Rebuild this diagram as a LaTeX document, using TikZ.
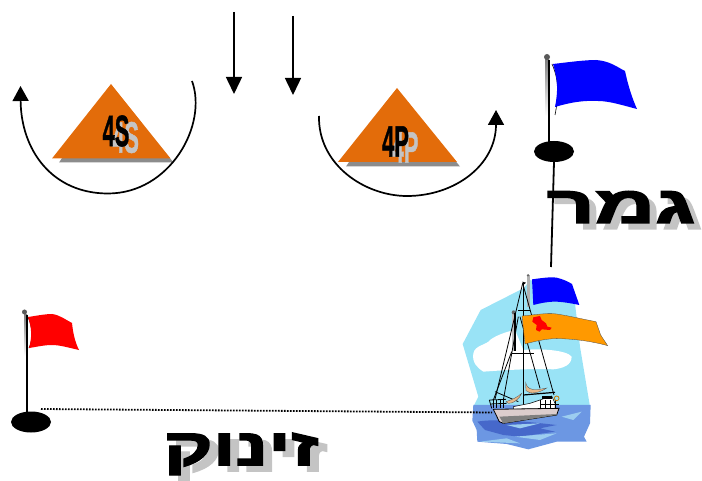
\documentclass[tikz,border=0pt]{standalone}
\usepackage{fontspec}
\usetikzlibrary{arrows.meta,shapes.geometric}
\setmainfont[BoldFeatures={FakeBold=1.2}]{Liberation Sans}
\newfontfamily\hebfont[Script=Hebrew,BoldFeatures={FakeBold=2.6}]{Liberation Sans}
\TeXXeTstate=1
\definecolor{tri}{HTML}{E36C0A}
\definecolor{shade}{HTML}{C4C4C4}
\definecolor{triback}{HTML}{8C8C8C}
\definecolor{skyc}{HTML}{99E3F6}
\definecolor{waterc}{HTML}{6C97E3}
\definecolor{wavec}{HTML}{3C5CC4}
\definecolor{wavel}{HTML}{9CCDF0}
\definecolor{hullc}{HTML}{DCCDCD}
\definecolor{tanc}{HTML}{E8B98A}
\definecolor{flagorange}{HTML}{FF9900}
\tikzset{
  curvearrow/.style={draw=black,line width=1.7pt,-{Triangle[width=16pt,length=15pt]}},
  downarrow/.style={draw=black,line width=1.5pt,-{Triangle[width=16pt,length=17pt]}},
  basedisc/.style={ellipse,fill=black,minimum width=40pt,minimum height=21pt,inner sep=0pt},
  trilabel/.style={inner sep=0pt,font=\bfseries\fontsize{44}{44}\selectfont},
  hebtext/.style={inner sep=0pt,font=\hebfont\bfseries\fontsize{52}{52}\selectfont},
  rig/.style={draw=black,line width=.8pt},
}
\newcommand{\trilab}[1]{\scalebox{.5}[1]{#1}}
\newcommand{\hebA}{\scalebox{1.6}[1]{\beginR גמר\endR}}
\newcommand{\hebB}{\scalebox{1.45}[1]{\beginR זינוק\endR}}
\begin{document}
\begin{tikzpicture}[x=1pt,y=-1pt]
\useasboundingbox (0,0) rectangle (702,481);
% straight arrows
\coordinate (a1s) at (234,12); \coordinate (a1e) at (234,94);
\coordinate (a2s) at (293,16); \coordinate (a2e) at (293,95);
\draw[downarrow] (a1s) -- (a1e);
\draw[downarrow] (a2s) -- (a2e);
% left triangle
\fill[triback] (59,162.5) -- (173.5,162.5) -- (111,86) -- cycle;
\fill[tri] (52,158.5) -- (111,84) -- (170.5,158.5) -- cycle;
\node[trilabel,text=shade] (ls) at (125.5,137.5) {\trilab{4S}};
\node[trilabel,text=black] (lt) at (116,131) {\trilab{4S}};
% right triangle
\fill[triback] (346,166.5) -- (460,166.5) -- (397,90) -- cycle;
\fill[tri] (338,162) -- (397,88) -- (457,162) -- cycle;
\node[trilabel,text=shade] (rs) at (405,147.5) {\trilab{4P}};
\node[trilabel,text=black] (rt) at (395.5,141.5) {\trilab{4P}};
% curved arrows
\coordinate (c1s) at (192,81); \coordinate (c1e) at (20.5,86);
\coordinate (c2s) at (319,116); \coordinate (c2e) at (496,110);
\draw[curvearrow] (c1s) .. controls (208,125) and (170,193.5) .. (108,193.5)
   .. controls (52,193.5) and (21,150) .. (c1e);
\draw[curvearrow] (c2s) .. controls (318,165) and (365,196) .. (407,196)
   .. controls (455,196) and (496,165) .. (c2e);
% boat picture
\begin{scope}[shift={(440,260)},x=.33333pt,y=-.33333pt]
 \fill[skyc] (68,252) -- (122,150) -- (250,85) -- (272,60) -- (405,130) -- (420,260) -- (450,440) -- (100,440) -- (115,410) -- cycle;
 \fill[waterc] (100,435) -- (452,435) -- (450,490) -- (432,530) -- (440,545) -- (350,545) -- (265,568) -- (200,552) -- (112,545) -- (110,510) -- (97,482) -- cycle;
 \fill[wavec!80!waterc] (112,485) .. controls (170,475) and (260,485) .. (350,495) -- (300,505) -- (345,515) -- (240,530) -- (190,525) -- (135,510) -- cycle;
 \fill[wavel] (200,495) -- (300,490) -- (240,505) -- cycle;
 \fill[wavel] (365,470) -- (425,455) -- (400,480) -- cycle;
 \fill[wavel] (225,530) -- (350,520) -- (300,540) -- cycle;
 \fill[wavel] (120,545) -- (200,535) -- (240,550) -- cycle;
 \fill[white] (100,280) .. controls (105,255) and (140,255) .. (150,240) .. controls (170,225) and (200,215) .. (225,210)
   -- (250,270) .. controls (300,265) and (380,270) .. (395,290) .. controls (395,315) and (370,325) .. (340,328)
   .. controls (280,325) and (200,330) .. (130,335) .. controls (115,325) and (95,310) .. (100,280) -- cycle;
 % masts
 \fill[gray!60] (261,45) -- (270,45) -- (270,140) -- (261,140) -- cycle;
 \fill[black!60] (264,46) circle (4);
 \fill[gray!50] (215,155) -- (226,155) -- (226,272) -- (215,272) -- cycle;
 \fill[black!60] (221,157) circle (6);
 \fill[black] (247,65) -- (258,68) -- (250,75) -- cycle;
 \draw[black,line width=1.6pt] (250,68) -- (250,445);
 \draw[black,line width=1.3pt] (225,160) -- (225,272);
 \draw[rig] (248,70) -- (165,418);
 \draw[rig] (248,70) -- (342,405);
 \draw[rig] (215,280) -- (282,280);
 \draw[rig] (235,150) -- (270,150);
 \draw[rig] (235,170) -- (190,420);
 \draw[rig] (240,170) -- (300,385);
 \draw[rig] (215,275) -- (160,420);
 \draw[rig] (165,395) -- (235,425);
 \draw[line width=1.2pt] (250,405) -- (345,397);
 % sails
 \fill[tanc,draw=black!70,line width=.3pt] (257,368) .. controls (262,392) and (285,392) .. (320,384) .. controls (300,398) and (270,405) .. (258,392) -- cycle;
 \fill[tanc,draw=black!70,line width=.3pt] (198,425) .. controls (215,420) and (235,410) .. (245,400) .. controls (240,415) and (220,432) .. (205,430) -- cycle;
 % deck
 \fill[white,draw=black,line width=.5pt] (220,440) -- (270,430) -- (300,420) -- (335,408) -- (345,430) -- (345,445) -- (220,448) -- cycle;
 \fill[black] (305,408) rectangle (335,418);
 \draw[line width=.8pt,draw=black] (148,420) -- (198,418) (150,432) -- (200,430) (155,445) -- (148,420);
 \foreach \xx in {160,170,180,190,300,315,330,345} \draw[line width=.6pt,draw=black] (\xx,420) -- (\xx,445);
 \draw[line width=.8pt,draw=black] (300,432) -- (358,432);
 \draw[draw=flagorange!80!black,line width=.8pt] (350,415) circle (7);
 % hull
 \fill[hullc,draw=black,line width=.8pt] (160,448) -- (357,445) -- (350,465) -- (190,490) -- (178,485) -- cycle;
 \fill[black!50] (178,470) -- (350,462) -- (350,465) -- (190,490) -- cycle;
 % flags
 \fill[blue] (276,58) .. controls (300,55) and (330,50) .. (350,53) .. controls (370,58) and (385,65) .. (396,72) -- (418,135) .. controls (395,130) and (365,125) .. (345,125) .. controls (320,125) and (300,130) .. (280,135) -- cycle;
 \fill[flagorange,draw=black!70,line width=.3pt] (246,168) .. controls (280,165) and (320,158) .. (350,162) .. controls (390,168) and (430,178) .. (468,185) -- (482,225) -- (503,257) .. controls (460,245) and (400,235) .. (340,236) .. controls (310,238) and (280,245) .. (255,252) -- cycle;
 \fill[red] (280,172) -- (300,168) -- (305,180) -- (318,190) -- (322,200) -- (335,203) -- (330,210) -- (305,208) -- (298,215) -- (288,210) -- (290,195) -- (277,185) -- cycle;
\end{scope}
% blue flag
\fill[shade] (545,60) rectangle (549,116);
\fill[black!65] (547,57) circle (3);
\draw[black,line width=.6pt] (552,64) .. controls (559,80) and (559,95) .. (555,115);
\fill[blue] (553,64) .. controls (570,62) and (585,60) .. (596,60) .. controls (610,61) and (617,67) .. (625,71) .. controls (628,85) and (632,98) .. (637,109) .. controls (625,106) and (610,101) .. (598,101) .. controls (580,100) and (565,104) .. (555,107) .. controls (558,92) and (558,80) .. (553,64) -- cycle;
\node[basedisc] (bluebase) at (554,151.5) {};
\draw[black,line width=1.8pt] (549,60) -- (549,145);
% red flag
\fill[shade] (24,315) rectangle (27,356);
\fill[black!65] (24.5,312) circle (2.5);
\draw[black,line width=.6pt] (28,317) .. controls (33,328) and (33,340) .. (29,348);
\fill[red] (28,317) .. controls (35,316) and (45,314) .. (52,314) .. controls (60,315) and (66,320) .. (72,323) .. controls (73,333) and (75,342) .. (79,350) .. controls (70,348) and (60,345) .. (52,345) .. controls (44,345) and (36,347) .. (29,348) .. controls (32,338) and (32,328) .. (28,317) -- cycle;
\node[basedisc] (redbase) at (31,422) {};
\draw[black,line width=2pt] (26.5,315) -- (26.5,416);
\coordinate (dotstart) at (41,409); \coordinate (dotend) at (492,412.5);
\draw[black,line width=1.8pt,dash pattern=on 1.6pt off 1.4pt] (dotstart) -- (dotend);
% Hebrew labels
\node[hebtext,text=shade] (gmarS) at (628,213) {\hebA};
\node[hebtext,text=black] (gmar) at (621,207) {\hebA};
\node[hebtext,text=shade] (zinukS) at (250,460) {\hebB};
\node[hebtext,text=black] (zinuk) at (241,454) {\hebB};
% finish line connector over the word
\coordinate (boattop) at (551,267);
\draw[black,line width=1.8pt] (bluebase.south) -- (boattop);
\end{tikzpicture}
\end{document}
